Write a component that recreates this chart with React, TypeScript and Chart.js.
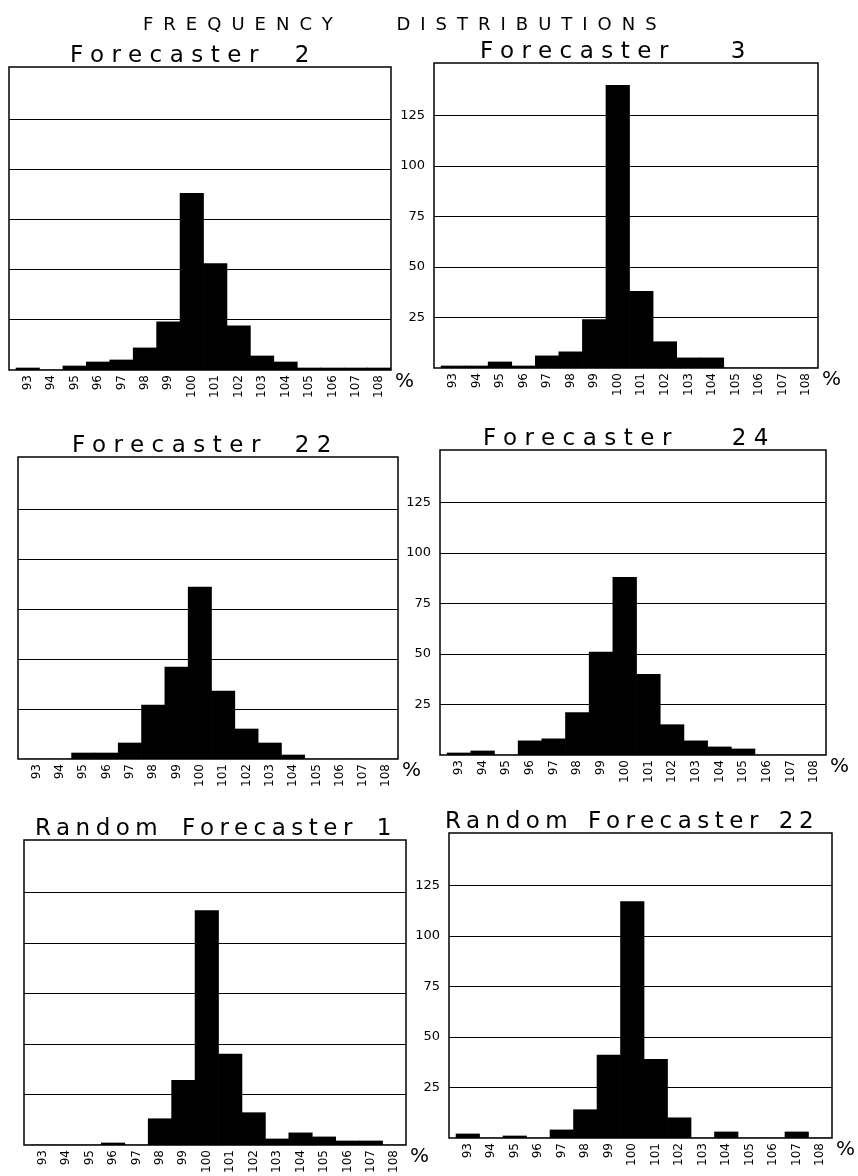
import React, { useEffect, useRef } from 'react';
import { Chart, registerables } from 'chart.js';

Chart.register(...registerables);

// ---------- data ----------
const BINS = [93, 94, 95, 96, 97, 98, 99, 100, 101, 102, 103, 104, 105, 106, 107, 108];
const Y_TICKS = [25, 50, 75, 100, 125];
const AXIS_UNIT = '%';
const HEADER = 'FREQUENCY DISTRIBUTIONS';

const forecaster2 = [1, 0, 2, 4, 5, 11, 24, 88, 53, 22, 7, 4, 1, 1, 1, 1];
const forecaster3 = [1, 1, 3, 1, 6, 8, 24, 140, 38, 13, 5, 5, 0, 0, 0, 0];
const forecaster22 = [0, 0, 3, 3, 8, 27, 46, 86, 34, 15, 8, 2, 0, 0, 0, 0];
const forecaster24 = [1, 2, 0, 7, 8, 21, 51, 88, 40, 15, 7, 4, 3, 0, 0, 0];
const randomForecaster1 = [0, 0, 0, 1, 0, 13, 32, 116, 45, 16, 3, 6, 4, 2, 2, 0];
const randomForecaster22 = [2, 0, 1, 0, 4, 14, 41, 117, 39, 10, 0, 3, 0, 0, 3, 0];

// ---------- layout / style ----------
const X_MIN = 92.2;
const X_MAX = 108.5;
const Y_MAX = 151;
const FONT = '"DejaVu Sans", "Liberation Sans", sans-serif';
const X_AXIS_H = 40;
const PAD_T = 36;
const PAD_R = 26;

type Panel = {
  title: string;
  data: number[];
  area: { left: number; top: number; right: number; bottom: number };
  yLabels: boolean;
  titleX: number;
  letterGap: number;
  wordGap: number;
};

const PANELS: Panel[] = [
  { title: 'Forecaster 2', data: forecaster2, area: { left: 9, top: 67, right: 391, bottom: 370 }, yLabels: false, titleX: 61, letterGap: 7.5, wordGap: 14 },
  { title: 'Forecaster 3', data: forecaster3, area: { left: 434, top: 63, right: 818, bottom: 368 }, yLabels: true, titleX: 46, letterGap: 7.5, wordGap: 40 },
  { title: 'Forecaster 22', data: forecaster22, area: { left: 18, top: 457, right: 398, bottom: 759 }, yLabels: false, titleX: 54, letterGap: 7.5, wordGap: 12 },
  { title: 'Forecaster 24', data: forecaster24, area: { left: 440, top: 450, right: 826, bottom: 755 }, yLabels: true, titleX: 43, letterGap: 7.5, wordGap: 38 },
  { title: 'Random Forecaster 1', data: randomForecaster1, area: { left: 24, top: 840, right: 406, bottom: 1145 }, yLabels: false, titleX: 11, letterGap: 5.5, wordGap: 6 },
  { title: 'Random Forecaster 22', data: randomForecaster22, area: { left: 449, top: 833, right: 832, bottom: 1138 }, yLabels: true, titleX: -4, letterGap: 5.5, wordGap: 2 },
];

const decorPlugin = {
  id: 'panelDecor',
  afterDatasetsDraw(chart: any) {
    const { ctx, chartArea } = chart;
    const { left, top, right, bottom } = chartArea;
    ctx.save();
    ctx.strokeStyle = '#000';
    ctx.lineWidth = 1.5;
    ctx.strokeRect(left, top, right - left, bottom - top);
    ctx.restore();
  },
  afterDraw(chart: any, _args: any, opts: any) {
    const { ctx, chartArea } = chart;
    const { left, top, right, bottom } = chartArea;
    ctx.save();
    ctx.fillStyle = '#000';
    ctx.font = `23px ${FONT}`;
    (ctx as any).letterSpacing = `${opts.letterGap || 0}px`;
    (ctx as any).wordSpacing = `${opts.wordGap || 0}px`;
    ctx.textAlign = 'left';
    ctx.textBaseline = 'alphabetic';
    ctx.fillText(opts.title, left + (opts.titleX || 0), top - 5);
    (ctx as any).letterSpacing = '0px';
    (ctx as any).wordSpacing = '0px';
    ctx.font = `20px ${FONT}`;
    ctx.textAlign = 'left';
    ctx.textBaseline = 'middle';
    ctx.fillText(AXIS_UNIT, right + 4, bottom + 12);
    ctx.restore();
  },
};

function PanelChart({ panel }: { panel: Panel }) {
  const ref = useRef<HTMLCanvasElement | null>(null);
  const yW = panel.yLabels ? 50 : 0;
  const padL = panel.yLabels ? 0 : 8;
  const cLeft = panel.area.left - yW - padL;
  const cTop = panel.area.top - PAD_T;
  const cW = panel.area.right + PAD_R - cLeft;
  const cH = panel.area.bottom + X_AXIS_H - cTop;

  useEffect(() => {
    if (!ref.current) return;
    const chart = new Chart(ref.current, {
      type: 'bar',
      data: {
        datasets: [
          {
            data: BINS.map((b, i) => ({ x: b, y: panel.data[i] })),
            backgroundColor: '#000',
            borderWidth: 0,
            barPercentage: 1,
            categoryPercentage: 1,
          } as any,
        ],
      },
      options: {
        animation: false,
        responsive: false,
        events: [],
        layout: { padding: { left: padL, top: PAD_T, right: PAD_R, bottom: 0 } },
        plugins: {
          legend: { display: false },
          tooltip: { enabled: false },
          panelDecor: {
            title: panel.title,
            titleX: panel.titleX,
            letterGap: panel.letterGap,
            wordGap: panel.wordGap,
          },
        } as any,
        scales: {
          x: {
            type: 'linear',
            min: X_MIN,
            max: X_MAX,
            offset: false,
            grid: { display: false, offset: false, drawTicks: false },
            border: { display: false },
            afterBuildTicks: (s: any) => {
              s.ticks = BINS.map((v) => ({ value: v }));
            },
            afterFit: (s: any) => {
              s.height = X_AXIS_H;
            },
            ticks: {
              autoSkip: false,
              minRotation: 90,
              maxRotation: 90,
              padding: 5,
              color: '#000',
              font: { family: FONT, size: 12 },
              callback: (v: any) => String(v),
            },
          } as any,
          y: {
            min: 0,
            max: Y_MAX,
            afterBuildTicks: (s: any) => {
              s.ticks = Y_TICKS.map((v) => ({ value: v }));
            },
            afterFit: (s: any) => {
              s.width = yW;
            },
            grid: { color: '#000', lineWidth: 1, drawTicks: false },
            border: { display: false },
            ticks: {
              display: panel.yLabels,
              padding: 9,
              color: '#000',
              font: { family: FONT, size: 13 },
              callback: (v: any) => String(v),
            },
          } as any,
        },
      },
      plugins: [decorPlugin as any],
    });
    return () => chart.destroy();
  }, [panel]);

  return (
    <canvas
      ref={ref}
      width={cW}
      height={cH}
      style={{ position: 'absolute', left: cLeft, top: cTop, width: cW, height: cH }}
    />
  );
}

export default function App() {
  return (
    <div
      style={{
        position: 'absolute',
        left: 0,
        top: 0,
        width: 858,
        height: 1176,
        overflow: 'hidden',
        background: '#fff',
      }}
    >
      <div
        style={{
          position: 'absolute',
          left: 143,
          top: 15,
          fontFamily: FONT,
          fontSize: 18,
          lineHeight: '18px',
          letterSpacing: '10px',
          wordSpacing: '38px',
          whiteSpace: 'nowrap',
          color: '#000',
          willChange: 'transform',
        }}
      >
        {HEADER}
      </div>
      {PANELS.map((p) => (
        <PanelChart key={p.title} panel={p} />
      ))}
    </div>
  );
}
